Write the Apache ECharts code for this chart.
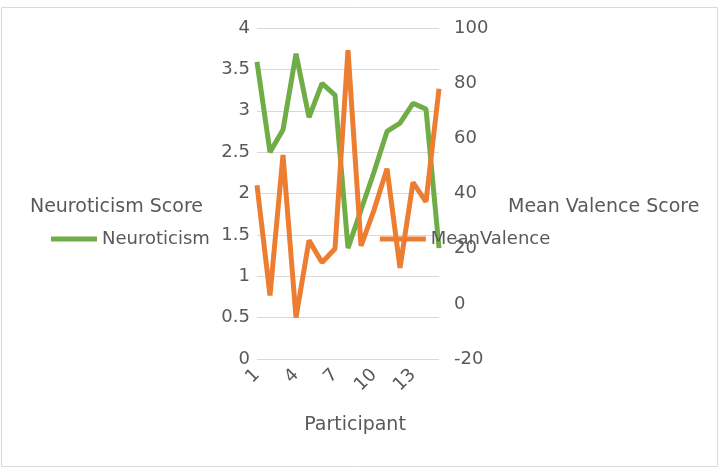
<!DOCTYPE html>
<html>
<head>
<meta charset="utf-8">
<script src="https://cdn.jsdelivr.net/npm/echarts@6/dist/echarts.min.js"></script>
<style>
html,body{margin:0;padding:0;background:#fff;}
#main{width:720px;height:472px;}
</style>
</head>
<body>
<div id="main"></div>
<script>
// participants 1..15
var participants = ['1','2','3','4','5','6','7','8','9','10','11','12','13','14','15'];
var neuroticism = [3.59, 2.5, 2.77, 3.69, 2.92, 3.33, 3.19, 1.34, 1.8, 2.26, 2.75, 2.85, 3.09, 3.02, 1.34];
var meanValence = [43, 3, 54, -5, 23, 15, 20, 92, 21, 34, 49, 13, 44, 37, 78];
var leftTicks = [0, 4, 0.5];     // min, max, step
var rightTicks = [-20, 100, 20];
var titles = {left: 'Neuroticism Score', right: 'Mean Valence Score', bottom: 'Participant'};

var green = '#70AD47', orange = '#ED7D31', txt = '#595959';

var myChart = echarts.init(document.getElementById('main'), null, {renderer: 'canvas'});

function title(text, x, y, align){
	return {
		type: 'text', x: x, y: y,
		style: {text: text, fill: txt, font: '19px "DejaVu Sans"', align: align, verticalAlign: 'middle'}
	};
}

var option = {
	animation: false,
	textStyle: {fontFamily: 'DejaVu Sans'},
	graphic: [{
		type: 'rect', shape: {x: 1.5, y: 7.5, width: 716, height: 459},
		style: {fill: 'none', stroke: '#d9d9d9', lineWidth: 1}, z: -1
	},
		title(titles.left, 203, 207, 'right'),
		title(titles.right, 508, 207, 'left'),
		title(titles.bottom, 355, 425, 'center')
	],
	grid: {left: 257, right: 281, top: 28, bottom: 113},
	legend: {
		left: 51, top: 230, padding: 0,
		icon: 'rect', itemWidth: 46, itemHeight: 5, itemGap: 170,
		textStyle: {color: txt, fontSize: 18, fontFamily: 'DejaVu Sans'},
		data: ['Neuroticism', 'MeanValence']
	},
	xAxis: {
		type: 'category', data: participants, boundaryGap: false,
		axisLine: {show: false}, axisTick: {show: false},
		axisLabel: {color: txt, fontSize: 18, rotate: 45, interval: 2, margin: 13}
	},
	yAxis: [{
		type: 'value', min: leftTicks[0], max: leftTicks[1], interval: leftTicks[2],
		axisLine: {show: false}, axisTick: {show: false},
		axisLabel: {color: txt, fontSize: 18, margin: 7},
		splitLine: {lineStyle: {color: '#d9d9d9', width: 1}}
	}, {
		type: 'value', min: rightTicks[0], max: rightTicks[1], interval: rightTicks[2],
		axisLine: {show: false}, axisTick: {show: false},
		axisLabel: {color: txt, fontSize: 18, margin: 15},
		splitLine: {show: false}
	}],
	series: [{
		name: 'Neuroticism', type: 'line', yAxisIndex: 0, data: neuroticism,
		showSymbol: false, lineStyle: {color: green, width: 5}, itemStyle: {color: green}
	}, {
		name: 'MeanValence', type: 'line', yAxisIndex: 1, data: meanValence,
		showSymbol: false, lineStyle: {color: orange, width: 5}, itemStyle: {color: orange}
	}]
};
myChart.setOption(option);
</script>
</body>
</html>
